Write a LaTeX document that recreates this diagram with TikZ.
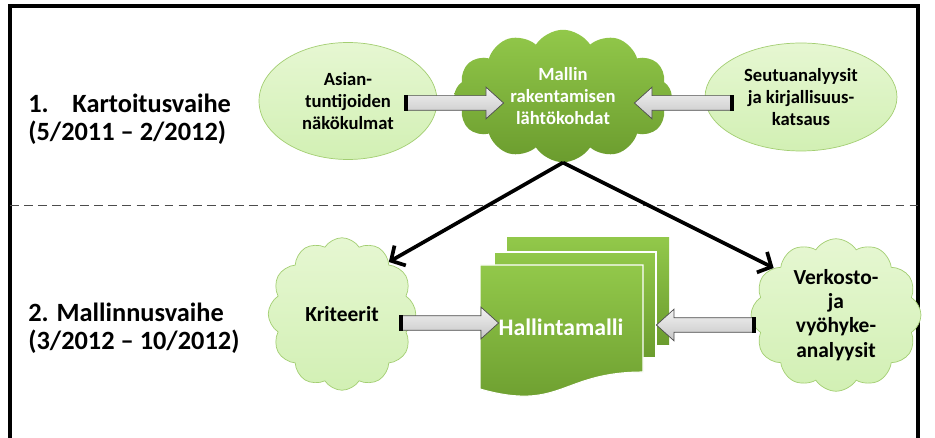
\documentclass[tikz,border=0pt]{standalone}
\usepackage{fontspec}
\setmainfont{Carlito}
\usetikzlibrary{shapes.symbols,shapes.geometric,shapes.arrows,arrows.meta}
\definecolor{paleleaf}{HTML}{E6F7D2}
\definecolor{paleleafb}{HTML}{D2F0B4}
\definecolor{leafline}{HTML}{A3CE72}
\definecolor{leaftop}{HTML}{92C84A}
\definecolor{leafbot}{HTML}{6B9C2E}
\begin{document}
\begin{tikzpicture}[x=0.02cm,y=-0.02cm,font=\bfseries]
	\tikzstyle{phase} = [anchor=west, align=left, inner sep=0pt, font=\bfseries\fontsize{15}{16}\selectfont]
	\tikzstyle{soft} = [draw=leafline, top color=paleleaf, bottom color=paleleafb, align=center,
		font=\bfseries\fontsize{10.6}{12.4}\selectfont, inner sep=0pt]
	\tikzstyle{puff} = [soft, cloud, cloud puffs=12, cloud puff arc=115, cloud ignores aspect]
	\tikzstyle{blockarrow} = [single arrow, draw=black!70, top color=gray!10, bottom color=gray!45,
		inner sep=0.14cm, single arrow head extend=0.17cm, single arrow tip angle=84,
		minimum height=1.94cm]
	\tikzstyle{tailbar} = [draw=black, line width=2pt]
	\tikzstyle{edge} = [draw=black, line width=2.1pt, -{Straight Barb[length=6pt,width=13pt]}]
	\useasboundingbox (0,0) rectangle (935,438);
	% frame and phase divider
	\draw[line width=1.8pt] (10,440) -- (10,6) -- (918,6) -- (918,440);
	\draw[black!70, dashed, dash pattern=on 5pt off 3pt] (10,205) -- (918,205);
	% phase titles
	\node[phase] (p1) at (28,119) {1.\hspace{0.9em}Kartoitusvaihe\\(5/2011 -- 2/2012)};
	\node[phase] (p2) at (28,328) {2. Mallinnusvaihe\\(3/2012 -- 10/2012)};
	% phase 1
	\node[soft, ellipse, minimum width=3.56cm, minimum height=2.34cm] (asian) at (348,101)
		{Asian-\\tuntijoiden\\näkökulmat};
	\node[soft, ellipse, minimum width=3.84cm, minimum height=2.16cm] (seutu) at (801,97)
		{Seutuanalyysit\\ja kirjallisuus-\\katsaus};
	\node[puff, draw=none, top color=leaftop, bottom color=leafbot, text=white,
		minimum width=4.35cm, minimum height=2.65cm] (mallin) at (563,96)
		{Mallin\\rakentamisen\\lähtökohdat};
	\node[blockarrow] (a1) at (451,103) {};
	\node[blockarrow, shape border rotate=180] (a2) at (687,103) {};
	% phase 2
	\node[puff, font=\bfseries\fontsize{12.2}{13.8}\selectfont, minimum width=2.95cm,
		minimum height=3.05cm] (krit) at (342,314) {Kriteerit};
	\node[puff, font=\bfseries\fontsize{12.2}{13.8}\selectfont, minimum width=3.4cm,
		minimum height=3.05cm] (verk) at (836,315) {Verkosto-\\ja\\vyöhyke-\\analyysit};
	% stacked documents
	\fill[top color=leaftop, bottom color=leafbot] (507,238) rectangle (669,345);
	\draw[white, line width=0.6pt, top color=leaftop, bottom color=leafbot] (494,252) rectangle (656,358);
	\draw[white, line width=0.6pt, top color=leaftop, bottom color=leafbot]
		(480,265) -- (643,265) -- (643,372) .. controls (561,372) and (561,412) .. (480,389) -- cycle;
	\node[text=white, font=\bfseries\fontsize{13.5}{16}\selectfont] (hallinta) at (561,327) {Hallintamalli};
	\node[blockarrow] (a3) at (446,323) {};
	\node[blockarrow, shape border rotate=180] (a4) at (709,325) {};
	% tails of the block arrows
	\draw[tailbar] (a1.before tail) -- (a1.after tail);
	\draw[tailbar] (a2.before tail) -- (a2.after tail);
	\draw[tailbar] (a3.before tail) -- (a3.after tail);
	\draw[tailbar] (a4.before tail) -- (a4.after tail);
	% links between the phases
	\draw[edge] (mallin.south) -- (krit.48);
	\draw[edge] (mallin.south) -- (verk.143);
\end{tikzpicture}
\end{document}
